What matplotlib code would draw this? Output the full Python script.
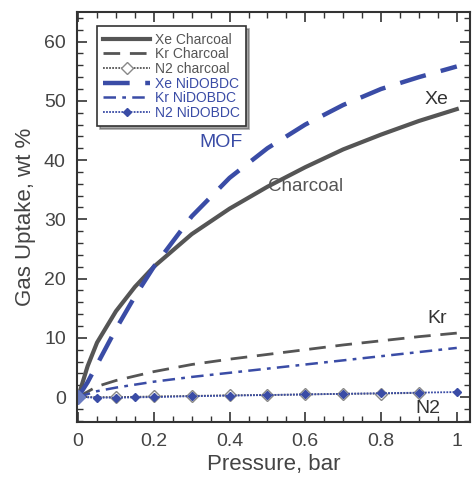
import matplotlib
matplotlib.use("Agg")
import matplotlib.pyplot as plt
from matplotlib.ticker import MultipleLocator

plt.rcParams['font.family'] = ['Liberation Sans', 'DejaVu Sans']

# Xe isotherms
xe_p = [0, 0.025, 0.05, 0.1, 0.15, 0.2, 0.3, 0.4, 0.5, 0.6, 0.7, 0.8, 0.9, 1.0]
xe_charcoal = [0, 5.2, 9.2, 14.5, 18.6, 22.0, 27.5, 31.8, 35.5, 38.8, 41.8, 44.3, 46.6, 48.6]
xe_nidobdc = [0, 2.5, 5.5, 11.5, 17.0, 22.0, 30.5, 37.0, 42.0, 46.0, 49.3, 52.0, 54.0, 55.8]

# Kr isotherms
kr_p = [0, 0.05, 0.1, 0.2, 0.3, 0.4, 0.5, 0.6, 0.7, 0.8, 0.9, 1.0]
kr_charcoal = [0, 1.8, 2.8, 4.3, 5.5, 6.4, 7.2, 8.0, 8.8, 9.5, 10.2, 10.8]
kr_nidobdc = [0, 1.0, 1.6, 2.6, 3.4, 4.1, 4.8, 5.5, 6.2, 6.9, 7.6, 8.3]

# N2 isotherms
n2c_p = [0, 0.1, 0.2, 0.3, 0.4, 0.5, 0.6, 0.7, 0.8, 0.9]
n2_charcoal = [0, 0.0, 0.1, 0.2, 0.3, 0.35, 0.45, 0.55, 0.6, 0.7]
n2n_p = [0, 0.05, 0.1, 0.15, 0.2, 0.3, 0.4, 0.5, 0.6, 0.7, 0.8, 0.9, 1.0]
n2_nidobdc = [0, -0.1, -0.1, -0.05, 0.0, 0.15, 0.25, 0.35, 0.45, 0.55, 0.65, 0.75, 0.85]

gray = "#555555"
blue = "#3a4ca6"

fig = plt.figure(figsize=(4.74, 4.78), dpi=100)
ax = fig.add_axes([0.1624, 0.1172, 0.8292, 0.8578])

ax.plot(xe_p, xe_charcoal, color=gray, lw=3.0, label="Xe Charcoal")
ax.plot(kr_p, kr_charcoal, color=gray, lw=2.0, dashes=(6, 3.5), label="Kr Charcoal")
ax.plot(n2c_p, n2_charcoal, color=gray, lw=1.3, ls=(0, (1, 0.7)), marker="D",
        ms=6, mfc="white", mec="#888888", mew=1.0, label="N2 charcoal")
ax.plot(xe_p, xe_nidobdc, color=blue, lw=3.2, dashes=(6, 3.5), label="Xe NiDOBDC")
ax.plot(kr_p, kr_nidobdc, color=blue, lw=1.8, dashes=(5, 2.5, 1.5, 2.5), label="Kr NiDOBDC")
ax.plot(n2n_p, n2_nidobdc, color=blue, lw=1.3, ls=(0, (1, 0.7)), marker="D",
        ms=4, mfc=blue, mec=blue, label="N2 NiDOBDC")
ax.plot([0], [0], marker="D", ms=7, color="#6a7cc0", ls="none")

ax.set_xlim(-0.003, 1.035)
ax.set_ylim(-4.2, 65)
ax.xaxis.set_minor_locator(MultipleLocator(0.05))
ax.yaxis.set_major_locator(MultipleLocator(10))
ax.yaxis.set_minor_locator(MultipleLocator(2))
ax.set_xticks([0, 0.2, 0.4, 0.6, 0.8, 1.0])
ax.set_xticklabels(["0", "0.2", "0.4", "0.6", "0.8", "1"])
ax.tick_params(which="both", direction="in", top=True, right=True, color="#333333")
ax.tick_params(which="major", length=7, width=1.2, labelsize=14, labelcolor="#444444", pad=8)
ax.tick_params(which="minor", length=4, width=1.0)
for s in ax.spines.values():
    s.set_linewidth(1.5)
    s.set_color("#333333")

ax.set_xlabel("Pressure, bar", fontsize=16, color="#444444", labelpad=3)
ax.set_ylabel("Gas Uptake, wt %", fontsize=16, color="#444444", labelpad=6)

ax.text(0.378, 42.9, "MOF", color=blue, fontsize=14, ha="center", va="center")
ax.text(0.947, 50.3, "Xe", color="#333333", fontsize=14, ha="center", va="center")
ax.text(0.60, 35.6, "Charcoal", color=gray, fontsize=13.5, ha="center", va="center")
ax.text(0.947, 13.3, "Kr", color="#333333", fontsize=14, ha="center", va="center")
ax.text(0.925, -1.9, "N2", color="#333333", fontsize=14, ha="center", va="center")

leg = ax.legend(loc="upper left", bbox_to_anchor=(0.051, 0.965), fontsize=10,
                frameon=True, fancybox=False, shadow=True, edgecolor="#333333",
                handlelength=3.4, handletextpad=0.3, labelspacing=0.05,
                borderpad=0.45, borderaxespad=0)
leg.get_frame().set_linewidth(1.2)
for t, c in zip(leg.get_texts(), [gray, gray, gray, blue, blue, blue]):
    t.set_color(c)

fig.savefig("out.png", dpi=100)
